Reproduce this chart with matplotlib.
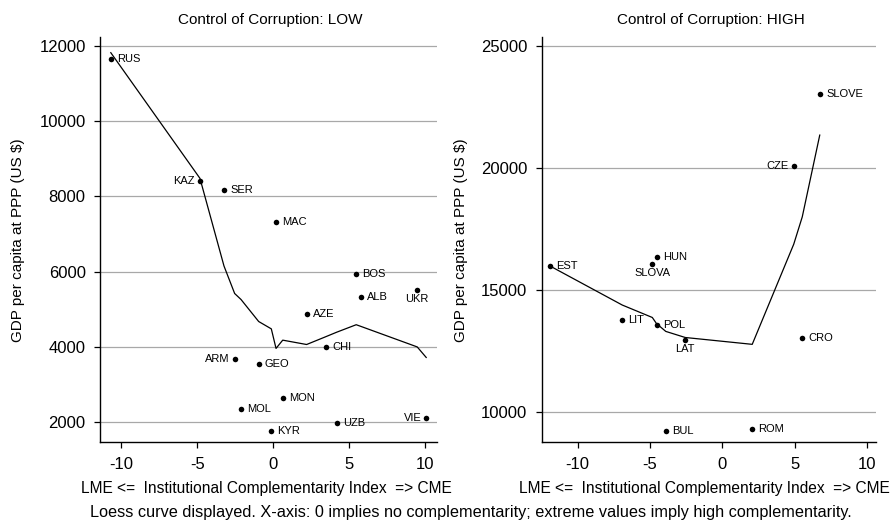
import matplotlib
matplotlib.use("Agg")
import matplotlib.pyplot as plt

plt.rcParams['font.family'] = ['Liberation Sans', 'DejaVu Sans']
plt.rcParams['axes.unicode_minus'] = False

# ---- Data: Control of Corruption LOW ----
low_countries = ['RUS', 'KAZ', 'SER', 'MAC', 'BOS', 'ALB', 'UKR', 'AZE', 'CHI',
                 'ARM', 'GEO', 'MON', 'MOL', 'UZB', 'VIE', 'KYR']
low_x = [-10.68, -4.82, -3.24, 0.18, 5.45, 5.76, 9.46, 2.19, 3.44,
         -2.54, -0.96, 0.62, -2.12, 4.16, 10.05, -0.13]
low_y = [11650, 8410, 8180, 7310, 5930, 5340, 5510, 4880, 4010,
         3670, 3550, 2630, 2340, 1990, 2100, 1760]
low_pos = ['r', 'l', 'r', 'r', 'r', 'r', 'b', 'r', 'r',
           'l', 'r', 'r', 'r', 'r', 'l', 'r']
low_loess_x = [-10.68, -4.82, -3.24, -2.54, -2.12, -0.96, -0.13, 0.18, 0.62,
               2.19, 3.44, 4.16, 5.45, 5.76, 9.46, 10.05]
low_loess_y = [11820, 8480, 6150, 5420, 5260, 4675, 4480, 3960, 4180,
               4064, 4270, 4390, 4590, 4545, 4000, 3720]
low_yticks = [2000, 4000, 6000, 8000, 10000, 12000]

# ---- Data: Control of Corruption HIGH ----
high_countries = ['EST', 'HUN', 'SLOVA', 'LIT', 'POL', 'LAT', 'CRO', 'BUL',
                  'ROM', 'CZE', 'SLOVE']
high_x = [-11.92, -4.49, -4.84, -6.92, -4.55, -2.56, 5.53, -3.91, 2.07, 4.94, 6.74]
high_y = [15980, 16330, 16070, 13760, 13570, 12950, 13030, 9210, 9290, 20080, 23020]
high_pos = ['r', 'r', 'b', 'r', 'r', 'b', 'r', 'r', 'r', 'l', 'r']
high_loess_x = [-11.92, -6.92, -4.84, -4.55, -4.49, -3.91, -2.56, 2.07, 4.94, 5.53, 6.74]
high_loess_y = [15980, 14380, 13870, 13620, 13590, 13300, 13050, 12770, 16870, 17990, 21340]
high_yticks = [10000, 15000, 20000, 25000]

xticks = [-10, -5, 0, 5, 10]

W, H = 892, 521
fig = plt.figure(figsize=(W / 100, H / 100), dpi=100)


def fx(px):
    return px / W


def fy(py):
    return 1 - py / H


def setup(ax, yticks):
    for s in ['top', 'right']:
        ax.spines[s].set_visible(False)
    for s in ['left', 'bottom']:
        ax.spines[s].set_linewidth(1.0)
        ax.spines[s].set_color('black')
    ax.set_xticks(xticks)
    ax.set_yticks(yticks)
    ax.tick_params(axis='x', length=4, width=0.9, pad=6.5, labelsize=12)
    ax.tick_params(axis='y', length=4, width=0.9, pad=6.5, labelsize=12)
    ax.yaxis.grid(True, color='#a8a8a8', linewidth=0.9)
    ax.set_axisbelow(True)


def labels(ax, xs, ys, names, pos):
    for x, y, n, p in zip(xs, ys, names, pos):
        if p == 'r':
            ax.annotate(n, (x, y), xytext=(4.5, 0), textcoords='offset points',
                        ha='left', va='center', fontsize=8)
        elif p == 'l':
            ax.annotate(n, (x, y), xytext=(-3.5, 0), textcoords='offset points',
                        ha='right', va='center', fontsize=8)
        else:
            ax.annotate(n, (x, y), xytext=(0, -6.5), textcoords='offset points',
                        ha='center', va='center', fontsize=8)


# Left panel
ax1 = fig.add_axes([fx(100.3), fy(442.3), fx(437 - 100.3), (442.3 - 37.3) / H])
setup(ax1, low_yticks)
ax1.plot(low_loess_x, low_loess_y, color='black', linewidth=0.9, zorder=2)
ax1.scatter(low_x, low_y, s=16, color='black', zorder=3, linewidths=0)
labels(ax1, low_x, low_y, low_countries, low_pos)
ax1.set_xlim(-11.37, 10.76)
ax1.set_ylim(1465, 12229)

# Right panel
ax2 = fig.add_axes([fx(541.7), fy(442.3), fx(876 - 541.7), (442.3 - 37.3) / H])
setup(ax2, high_yticks)
ax2.plot(high_loess_x, high_loess_y, color='black', linewidth=0.9, zorder=2)
ax2.scatter(high_x, high_y, s=16, color='black', zorder=3, linewidths=0)
labels(ax2, high_x, high_y, high_countries, high_pos)
ax2.set_xlim(-12.49, 10.63)
ax2.set_ylim(8758, 25345)

# Titles and axis labels
fig.text(fx(270), fy(20), 'Control of Corruption: LOW', ha='center', va='center', fontsize=11)
fig.text(fx(711), fy(20), 'Control of Corruption: HIGH', ha='center', va='center', fontsize=11)
ylab = 'GDP per capita at PPP (US $)'
fig.text(fx(18), fy(240), ylab, rotation=90, ha='center', va='center', fontsize=11)
fig.text(fx(461), fy(240), ylab, rotation=90, ha='center', va='center', fontsize=11)
xlab = 'LME <=  Institutional Complementarity Index  => CME'
fig.text(fx(266), fy(488), xlab, ha='center', va='center', fontsize=11.2)
fig.text(fx(704), fy(488), xlab, ha='center', va='center', fontsize=11.2)
fig.text(fx(90), fy(513), 'Loess curve displayed. X-axis: 0 implies no complementarity; '
         'extreme values imply high complementarity.',
         ha='left', va='center', fontsize=11.7)

fig.savefig('out.png', dpi=100)
